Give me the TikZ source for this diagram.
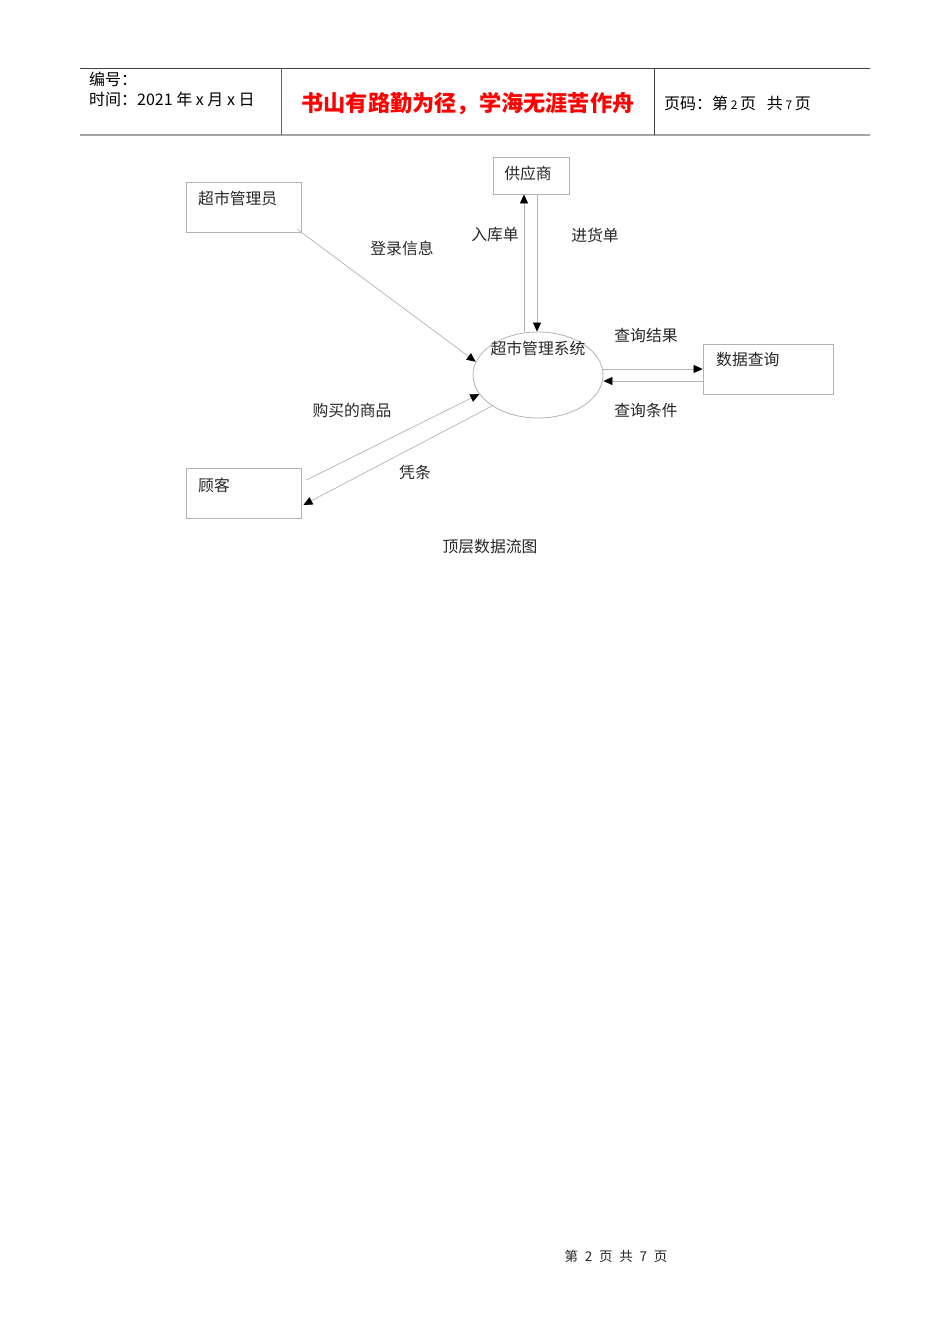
\documentclass[tikz,border=0pt]{standalone}
\usepackage{fontspec}
\newfontfamily\cjk{Noto Sans CJK SC}
\usetikzlibrary{shapes.geometric, arrows.meta, positioning, calc}

\begin{document}
\begin{tikzpicture}[x=1pt,y=-1pt,
    box/.style={rectangle,draw=gray!60,line width=0.8pt,inner sep=0pt},
    lbl/.style={font=\cjk\fontsize{15.8}{18}\selectfont,text=black!85,inner sep=0pt},
    head/.style={font=\cjk\fontsize{16}{18}\selectfont,text=black,inner sep=0pt},
    flow/.style={draw=gray!60,line width=0.7pt,-{Triangle[length=9pt,width=8pt,color=black]}}]
    \useasboundingbox (0,0) rectangle (950,1344);

    % Kopfzeile
    \draw[black!75,line width=0.9pt] (80,68) -- (870,68);
    \draw[gray!70,line width=1.8pt] (80,135) -- (870,135);
    \draw[black!60,line width=0.9pt] (281,68) -- (281,135);
    \draw[black!75,line width=0.9pt] (654,68) -- (654,135);
    \node[head,anchor=west] (nr) at (89,79) {编号：};
    \node[head,anchor=west] (datum) at (89,99) {时间：2021 年 x 月 x 日};
    \node[font=\cjk\bfseries\fontsize{22.2}{24}\selectfont,text=red,inner sep=0pt] (motto) at (468,104) {书山有路勤为径，学海无涯苦作舟};
    \node[head,anchor=west] (seite) at (664,103) {页码：第\,{\fontsize{12}{13}\selectfont 2}\,页\,\enspace 共\,{\fontsize{12}{13}\selectfont 7}\,页};

    % Knoten
    \node[box,minimum width=115,minimum height=50] (admin) at (243.5,207) {};
    \node[lbl,anchor=west] (adminT) at (198,198) {超市管理员};
    \node[box,minimum width=76,minimum height=37] (sup) at (531,175.5) {};
    \node[lbl] (supT) at (528,173) {供应商};
    \node[ellipse,draw=gray!60,line width=0.8pt,minimum width=130,minimum height=86,inner sep=0pt] (sys) at (538,375) {};
    \node[lbl] (sysT) at (538,348) {超市管理系统};
    \node[box,minimum width=130,minimum height=50] (dq) at (768,369) {};
    \node[lbl,anchor=west] (dqT) at (716,360) {数据查询};
    \node[box,minimum width=115,minimum height=50] (cust) at (243.5,493) {};
    \node[lbl,anchor=west] (custT) at (198,485) {顾客};

    % Datenfluesse
    \draw[flow] ([shift={(-4,-3)}]admin.south east) -- (sys.168);
    \draw[flow] ([xshift=-14pt]sys.north) -- ([xshift=-7pt]sup.south);
    \draw[flow] ([xshift=6pt]sup.south) -- ([xshift=-1pt]sys.north);
    \draw[flow] ([yshift=6pt]sys.east) -- (dq.west);
    \draw[flow] ([yshift=-12pt]dq.west) -- ([yshift=-6pt]sys.east);
    \draw[flow] ([shift={(5,-13)}]cust.east) -- (sys.198);
    \draw[flow] (sys.214) -- ([shift={(2,12)}]cust.east);

    % Beschriftungen
    \node[lbl] (l1) at (402,248) {登录信息};
    \node[lbl] (l2) at (495,235) {入库单};
    \node[lbl] (l3) at (595,235) {进货单};
    \node[lbl] (l4) at (646,335) {查询结果};
    \node[lbl] (l5) at (646,410) {查询条件};
    \node[lbl] (l6) at (352,410) {购买的商品};
    \node[lbl] (l7) at (415,472) {凭条};
    \node[lbl] (cap) at (490,547) {顶层数据流图};

    % Fusszeile
    \node[lbl,font=\cjk\fontsize{13.5}{15}\selectfont] (fuss) at (616,1256) {第\enspace 2\enspace 页\enspace 共\enspace 7\enspace 页};
\end{tikzpicture}
\end{document}
